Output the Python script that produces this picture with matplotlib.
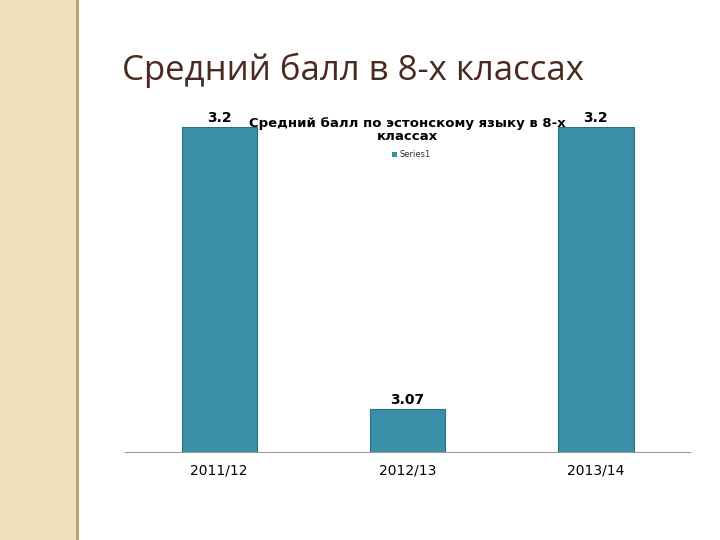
import matplotlib.pyplot as plt
from matplotlib.patches import Rectangle, Circle

years = ["2011/12", "2012/13", "2013/14"]
scores = [3.2, 3.07, 3.2]
labels = ["3.2", "3.07", "3.2"]

fig = plt.figure(figsize=(7.2, 5.4), dpi=100)
fig.patch.set_facecolor("white")

# beige side strip with decorative rings
fig.patches.append(Rectangle((0, 0), 78/720, 1, transform=fig.transFigure,
                             facecolor="#f1e2bd", edgecolor="none", zorder=0))
fig.patches.append(Rectangle((76/720, 0), 3/720, 1, transform=fig.transFigure,
                             facecolor="#b9a47c", edgecolor="none", zorder=0))
deco = fig.add_axes([0, 0, 78/720, 1])
deco.set_xlim(0, 78)
deco.set_ylim(540, 0)
deco.axis("off")
deco.add_patch(Circle((75, 65), 62, fill=False, edgecolor="#faf3e2", linewidth=1.5, clip_on=True))
deco.add_patch(Circle((75, 125), 58, fill=False, edgecolor="#e0d0a8", linewidth=6, clip_on=True))

fig.text(122/720, 1 - 70/540, "Средний балл в 8-х классах", fontsize=25,
         color="#4a2a1e", family=["Open Sans", "DejaVu Sans"], va="center")

ax = fig.add_axes([125/720, 88/540, 565/720, 325/540])
ax.bar(range(len(years)), scores, width=0.4, color="#3a8fa6",
       edgecolor="#2b6f82", linewidth=0.8)
ax.set_ylim(3.05, 3.2)
ax.set_xlim(-0.5, 2.5)
ax.set_xticks(range(len(years)))
ax.set_xticklabels(years, fontsize=10)
ax.tick_params(axis="x", length=0, pad=8)
ax.set_yticks([])
for s in ["left", "right", "top"]:
    ax.spines[s].set_visible(False)
ax.spines["bottom"].set_color("#999999")
for i, (v, lab) in enumerate(zip(scores, labels)):
    ax.text(i, v + 0.001, lab, ha="center", va="bottom", fontsize=10,
            fontweight="bold", clip_on=False)

fig.text(407/720, 1 - 130/540, "Средний балл по эстонскому языку в 8-х\nклассах",
         ha="center", va="center", fontsize=9.5, fontweight="bold", linespacing=1.0)
fig.patches.append(Rectangle((392/720, 1 - 157/540), 5/720, 5/540, transform=fig.transFigure,
                             facecolor="#3a8fa6", edgecolor="none"))
fig.text(399/720, 1 - 155/540, "Series1", fontsize=6, va="center", color="#333333")

fig.savefig("out.png", dpi=100)
